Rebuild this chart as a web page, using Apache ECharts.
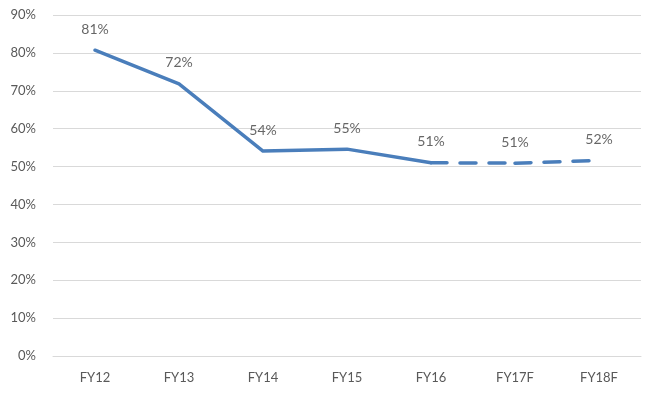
<!DOCTYPE html>
<html>
<head>
<meta charset="utf-8">
<script src="https://cdn.jsdelivr.net/npm/echarts@6/dist/echarts.min.js"></script>
<style>html,body{margin:0;padding:0;background:#fff}#c{width:648px;height:395px}</style>
</head>
<body>
<div id="c"></div>
<script>
var categories = ['FY12','FY13','FY14','FY15','FY16','FY17F','FY18F'];
var values = [0.807, 0.718, 0.541, 0.546, 0.510, 0.509, 0.516];
var lastActualIndex = 4; // FY16: solid up to here, dashed after
var yTicks = [0, 0.1, 0.2, 0.3, 0.4, 0.5, 0.6, 0.7, 0.8, 0.9];

var blue = '#4a7ebb';
var font = 'Lato, "Open Sans", sans-serif';

function seg(a, b) {
  return values.map(function (v, i) { return (i >= a && i <= b) ? v : null; });
}
var series = [{
  type: 'line', data: seg(0, lastActualIndex), symbol: 'none', silent: true,
  lineStyle: { color: blue, width: 3.5, cap: 'round', join: 'round' }
}];
for (var i = lastActualIndex; i < values.length - 1; i++) {
  series.push({
    type: 'line', data: seg(i, i + 1), symbol: 'none', silent: true,
    lineStyle: { color: blue, width: 3.5, type: [16, 13], cap: 'round' }
  });
}
series.push({
  type: 'scatter', data: values, symbolSize: 0, silent: true,
  label: {
    show: true, position: 'top', distance: 14,
    formatter: function (p) { return Math.round(p.value * 100) + '%'; },
    color: '#404040', fontSize: 14, fontFamily: font
  }
});

var chart = echarts.init(document.getElementById('c'), null, { renderer: 'canvas' });
chart.setOption({
  animation: false,
  grid: { left: 53, right: 7, top: 15, bottom: 39, containLabel: false },
  xAxis: {
    type: 'category', data: categories, boundaryGap: true,
    axisLine: { show: true, lineStyle: { color: '#d9d9d9', width: 1 } },
    axisTick: { show: false },
    axisLabel: { color: '#595959', fontSize: 13, fontFamily: font, margin: 15 }
  },
  yAxis: {
    type: 'value', min: yTicks[0], max: yTicks[yTicks.length - 1], interval: 0.1,
    axisLine: { show: false }, axisTick: { show: false },
    splitLine: { lineStyle: { color: '#d9d9d9', width: 1 } },
    axisLabel: {
      color: '#595959', fontSize: 13, fontFamily: font, margin: 17,
      formatter: function (v) { return Math.round(v * 100) + '%'; }
    }
  },
  series: series
});
</script>
</body>
</html>
